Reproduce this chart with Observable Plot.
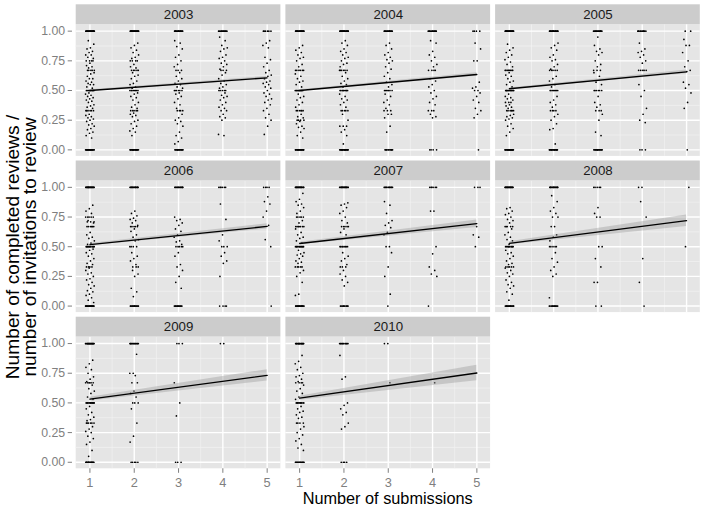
<!DOCTYPE html>
<html><head><meta charset="utf-8">
<script src="https://cdn.jsdelivr.net/npm/d3@7"></script>
<script src="https://cdn.jsdelivr.net/npm/@observablehq/plot@0.6"></script>
<style>
body{margin:0;background:#fff;font-family:"Liberation Sans",Arial,sans-serif;}
#wrap{position:relative;width:704px;height:509px;overflow:hidden;}
#wrap svg{position:absolute;left:0;top:0;}
#xt{position:absolute;left:75.7px;width:624px;top:490px;text-align:center;font-size:16.3px;line-height:1;color:#000;}
#yt{position:absolute;width:360px;left:-158.5px;top:229px;text-align:center;font-size:19.2px;line-height:0.9;color:#000;transform:rotate(-90deg);transform-origin:180px 18px;}
</style></head><body>
<div id="wrap"><div id="xt">Number of submissions</div><div id="yt">Number of completed reviews /<br>number of invitations to review</div></div>
<script>
// ---- data ----
const years = [2003, 2004, 2005, 2006, 2007, 2008, 2009, 2010];
const submissions = [1, 2, 3, 4, 5];
const yTicks = [0, 0.25, 0.5, 0.75, 1];
const yTickLabels = ["0.00", "0.25", "0.50", "0.75", "1.00"];
const yMinor = [0.125, 0.375, 0.625, 0.875];
const xMinor = [1.5, 2.5, 3.5, 4.5];
// ratio values per number of submissions (1..5); "v*n" = n reviewers with value v
const y2003 = [
 "1*22 0*20 0.5*10 0.33*6 0.67*5 0.75*4 0.92 0.89 0.86 0.85 0.83 0.82 0.8 0.8 0.78 0.77 0.73 0.71 0.7 0.69 0.65 0.64 0.62 0.6 0.6 0.58 0.57 0.56 0.55 0.55 0.53 0.52 0.48 0.47 0.46 0.45 0.44 0.43 0.42 0.41 0.4 0.38 0.37 0.36 0.35 0.3 0.29 0.28 0.27 0.26 0.25 0.24 0.22 0.21 0.2 0.18 0.17 0.15 0.14 0.12 0.1",
 "1*22 0*18 0.5*8 0.33*5 0.67*5 0.75*3 0.9 0.88 0.86 0.84 0.82 0.8 0.78 0.77 0.75 0.72 0.7 0.69 0.65 0.63 0.62 0.6 0.58 0.56 0.55 0.53 0.52 0.48 0.47 0.45 0.44 0.42 0.4 0.38 0.36 0.35 0.31 0.3 0.29 0.28 0.25 0.24 0.22 0.2 0.18 0.16 0.15 0.12",
 "1*16 0*14 0.5*6 0.33*4 0.67*3 0.92 0.9 0.87 0.85 0.8 0.78 0.75 0.72 0.7 0.65 0.62 0.6 0.58 0.56 0.55 0.53 0.52 0.48 0.47 0.45 0.43 0.4 0.38 0.35 0.3 0.27 0.25 0.24 0.22 0.2 0.15 0.12 0.1 0.07 0.05",
 "1*12 0.5*5 0.67*3 0.95 0.92 0.88 0.86 0.85 0.83 0.8 0.78 0.77 0.75 0.73 0.72 0.7 0.68 0.65 0.63 0.6 0.58 0.56 0.55 0.53 0.52 0.48 0.46 0.45 0.44 0.42 0.4 0.38 0.36 0.35 0.33 0.33 0.3 0.28 0.27 0.25 0.13 0.12",
 "1*6 0.92 0.9 0.88 0.86 0.78 0.76 0.73 0.7 0.67 0.65 0.63 0.62 0.6 0.58 0.57 0.56 0.55 0.53 0.52 0.5 0.48 0.47 0.45 0.43 0.42 0.4 0.38 0.35 0.33 0.3 0.27 0.25 0.2 0.13"
];
const y2004 = [
 "1*20 0*18 0.5*12 0.67*6 0.33*6 0.25*4 0.88 0.86 0.84 0.82 0.8 0.78 0.77 0.75 0.72 0.7 0.64 0.62 0.6 0.58 0.57 0.55 0.53 0.47 0.45 0.44 0.42 0.4 0.38 0.36 0.3 0.28 0.27 0.24 0.22 0.2 0.19 0.18 0.15 0.12 0.1",
 "1*20 0*18 0.5*10 0.67*6 0.33*5 0.2*3 0.92 0.9 0.88 0.85 0.83 0.82 0.8 0.78 0.77 0.75 0.73 0.72 0.7 0.65 0.62 0.6 0.58 0.56 0.55 0.53 0.47 0.45 0.43 0.42 0.4 0.38 0.36 0.3 0.25 0.17 0.15 0.12 0.05",
 "1*14 0*10 0.5*7 0.33*3 0.9 0.88 0.85 0.82 0.8 0.78 0.76 0.75 0.73 0.7 0.68 0.65 0.62 0.6 0.57 0.55 0.53 0.47 0.45 0.42 0.4 0.38 0.35 0.3 0.3 0.27 0.2 0.15",
 "1*12 0*4 0.67*4 0.92 0.9 0.83 0.8 0.78 0.75 0.72 0.7 0.6 0.58 0.55 0.53 0.5 0.48 0.45 0.43 0.4 0.38 0.33 0.33 0.33 0.3 0.28 0.27",
 "1*4 0 0.9 0.85 0.75 0.75 0.57 0.53 0.52 0.5 0.5 0.48 0.45 0.42 0.4 0.35 0.33 0.3 0.27"
];
const y2005 = [
 "1*22 0*20 0.5*14 0.67*8 0.33*6 0.4*3 0.89 0.86 0.84 0.82 0.8 0.78 0.76 0.74 0.72 0.7 0.65 0.63 0.62 0.6 0.58 0.57 0.55 0.53 0.47 0.45 0.44 0.43 0.42 0.38 0.37 0.36 0.35 0.3 0.29 0.28 0.27 0.26 0.25 0.22 0.2 0.18 0.15 0.12",
 "1*18 0*16 0.5*8 0.67*5 0.33*4 0.9 0.88 0.86 0.84 0.8 0.78 0.76 0.75 0.72 0.7 0.68 0.62 0.6 0.58 0.55 0.53 0.45 0.42 0.4 0.38 0.36 0.3 0.28 0.25 0.22 0.18 0.17 0.05",
 "1*14 0*14 0.5*6 0.67*3 0.33*3 0.95 0.88 0.85 0.83 0.82 0.8 0.75 0.72 0.7 0.65 0.62 0.57 0.55 0.45 0.4 0.38 0.36 0.3 0.25 0.15 0.12",
 "1*10 0*3 0.67*5 0.9 0.85 0.83 0.82 0.8 0.78 0.75 0.73 0.55 0.5 0.45 0.35 0.3 0.25 0.23",
 "1*2 0 0.93 0.88 0.88 0.82 0.75 0.7 0.67 0.66 0.57 0.55 0.52 0.48 0.4 0.35"
];
const y2006 = [
 "1*22 0*20 0.5*12 0.67*6 0.75*5 0.33*4 0.71*3 0.85 0.82 0.8 0.78 0.72 0.7 0.62 0.6 0.58 0.57 0.55 0.53 0.52 0.48 0.47 0.45 0.44 0.42 0.4 0.38 0.36 0.35 0.32 0.3 0.28 0.27 0.25 0.23 0.22 0.2 0.18 0.17 0.15 0.13 0.12 0.1 0.09 0.07 0.05 0.03",
 "1*16 0*14 0.5*4 0.67*5 0.33*3 0.8 0.78 0.76 0.74 0.73 0.72 0.7 0.68 0.65 0.63 0.6 0.58 0.56 0.55 0.45 0.42 0.4 0.38 0.35 0.3 0.27 0.25 0.15 0.12 0.08",
 "1*14 0*12 0.5*5 0.75 0.73 0.72 0.7 0.68 0.65 0.63 0.6 0.58 0.55 0.54 0.52 0.45 0.42 0.35 0.33 0.3 0.25 0.2 0.15",
 "1*6 0*4 0.5*3 0.86 0.73 0.6 0.55 0.45 0.42 0.38 0.36 0.25",
 "1*4 0 0.92 0.88 0.86 0.8 0.75 0.68 0.56 0.5"
];
const y2007 = [
 "1*20 0*18 0.5*12 0.67*7 0.75*5 0.33*5 0.95 0.9 0.88 0.86 0.85 0.83 0.8 0.78 0.72 0.7 0.65 0.62 0.6 0.58 0.57 0.55 0.53 0.47 0.45 0.44 0.43 0.42 0.4 0.38 0.37 0.36 0.3 0.28 0.25 0.2 0.1 0.09",
 "1*18 0*10 0.5*8 0.67*5 0.33*3 0.87 0.86 0.85 0.83 0.8 0.78 0.75 0.72 0.7 0.65 0.62 0.6 0.45 0.42 0.4 0.38 0.35 0.3 0.27 0.25 0.22 0.2 0.17",
 "1*12 0 0.88 0.85 0.78 0.72 0.7 0.68 0.66 0.62 0.6 0.5 0.5 0.45 0.33 0.25 0.1",
 "1*6 0 0.8 0.8 0.5 0.44 0.33 0.3 0.27 0.25",
 "1*3 0.67 0.6 0.58 0.5"
];
const y2008 = [
 "1*20 0*16 0.5*10 0.67*4 0.33*5 0.83 0.82 0.8 0.78 0.77 0.75 0.73 0.72 0.7 0.67 0.65 0.62 0.6 0.58 0.56 0.55 0.52 0.47 0.45 0.44 0.42 0.4 0.38 0.36 0.35 0.32 0.3 0.28 0.27 0.25 0.22 0.2 0.18 0.17 0.15 0.12 0.1 0.05",
 "1*16 0*12 0.5*5 0.93 0.88 0.83 0.8 0.78 0.75 0.75 0.67 0.67 0.6 0.58 0.55 0.45 0.4 0.37 0.33 0.3 0.27 0.25 0.07",
 "1*5 0*2 0.83 0.78 0.75 0.75 0.5 0.5 0.4 0.33 0.2 0.2",
 "1*2 0 0.88 0.75 0.4 0.2",
 "1 0.5"
];
const y2009 = [
 "1*20 0*16 0.5*12 0.67*6 0.33*6 0.86 0.83 0.8 0.78 0.75 0.72 0.7 0.68 0.65 0.62 0.6 0.58 0.55 0.53 0.47 0.45 0.42 0.4 0.38 0.36 0.35 0.3 0.28 0.26 0.25 0.22 0.2 0.17 0.15 0.1 0.05",
 "1*14 0*5 0.91 0.75 0.75 0.73 0.67 0.67 0.6 0.58 0.55 0.5 0.5 0.5 0.45 0.33 0.22 0.17",
 "1*3 0*3 0.67 0.5 0.39",
 "1*2",
 ""
];
const y2010 = [
 "1*18 0*14 0.5*10 0.67*4 0.33*4 0.9 0.85 0.83 0.8 0.78 0.75 0.73 0.72 0.7 0.68 0.65 0.62 0.6 0.58 0.55 0.53 0.47 0.45 0.43 0.42 0.4 0.38 0.37 0.3 0.28 0.25 0.23 0.2 0.18 0.15 0.12 0.1",
 "1*12 0*4 0.9 0.72 0.7 0.5 0.48 0.45 0.42 0.4 0.33 0.3 0.28",
 "1*2 0.67",
 "0.67",
 ""
];
// fitted linear trend (value at 1 and at 5 submissions) and 95% band half-widths
const fitAt1 = [0.500, 0.500, 0.515, 0.518, 0.527, 0.529, 0.532, 0.540];
const fitAt5 = [0.607, 0.635, 0.657, 0.671, 0.694, 0.719, 0.732, 0.752];
const ciAt1 = [0.006, 0.006, 0.007, 0.009, 0.010, 0.012, 0.015, 0.017];
const ciAt5 = [0.012, 0.014, 0.016, 0.022, 0.032, 0.048, 0.048, 0.066];

// ---- build tables ----
const yearValues = [y2003, y2004, y2005, y2006, y2007, y2008, y2009, y2010];
const facets = years.map((year, i) => ({year, i, col: i % 3, row: Math.floor(i / 3)}));
function parseGroup(str) {
  const out = [];
  for (const tok of str.trim().split(/\s+/)) {
    if (!tok) continue;
    const [v, n] = tok.split("*");
    for (let k = 0; k < (n ? +n : 1); k++) out.push(+v);
  }
  return out;
}
const points = [];
facets.forEach(f => {
  yearValues[f.i].forEach((str, si) => {
    const s = submissions[si];
    parseGroup(str).forEach((v, k) => {
      // horizontal jitter of +-0.1 (position adjustment only)
      const jit = ((((k + 1) * 0.6180339887 + f.i * 0.137 + s * 0.291) % 1) - 0.5) * 0.2;
      points.push({...f, sub: s, xj: s + jit, ratio: v});
    });
  });
});
const fit = facets.flatMap(f => [
  {...f, x: 1, y: fitAt1[f.i], lo: fitAt1[f.i] - ciAt1[f.i], hi: fitAt1[f.i] + ciAt1[f.i]},
  {...f, x: 5, y: fitAt5[f.i], lo: fitAt5[f.i] - ciAt5[f.i], hi: fitAt5[f.i] + ciAt5[f.i]}
]);
const hMajor = facets.flatMap(f => yTicks.map(v => ({...f, v})));
const hMinor = facets.flatMap(f => yMinor.map(v => ({...f, v})));
const vMajor = facets.flatMap(f => submissions.map(v => ({...f, v})));
const vMinor = facets.flatMap(f => xMinor.map(v => ({...f, v})));
const leftFacets = facets.filter(f => f.col === 0);
const yAxisData = leftFacets.flatMap(f => yTicks.map((v, j) => ({...f, v, label: yTickLabels[j]})));
const bottomFacets = facets.filter(f => f.year >= 2009);
const xAxisData = bottomFacets.flatMap(f => submissions.map(v => ({...f, v, label: String(v)})));

const X0 = 0.69, X1 = 5.31, Y0 = -0.055, Y1 = 1.055, YS = 1.222;
const pxX = 44.3, pxY = 118.7;
const fx = "col", fy = "row";

const chart = Plot.plot({
  width: 704, height: 509,
  marginLeft: 75.7, marginRight: 4.2, marginTop: 4.3, marginBottom: 40.7,
  style: {background: "transparent", fontFamily: "Liberation Sans, Arial, sans-serif"},
  fx: {domain: [0, 1, 2], axis: null, paddingInner: 5 / 209.7, paddingOuter: 0, round: false},
  fy: {domain: [0, 1, 2], axis: null, paddingInner: 4.6 / 156.2, paddingOuter: 0, round: false},
  x: {domain: [X0, X1], axis: null},
  y: {domain: [Y0, YS], axis: null},
  marks: [
    Plot.rect(facets, {x1: X0, x2: X1, y1: Y0, y2: Y1, fill: "#E5E5E5", fx, fy}),
    Plot.ruleY(hMinor, {y: "v", x1: X0, x2: X1, stroke: "#F2F2F2", strokeWidth: 0.7, fx, fy}),
    Plot.ruleX(vMinor, {x: "v", y1: Y0, y2: Y1, stroke: "#F2F2F2", strokeWidth: 0.7, fx, fy}),
    Plot.ruleY(hMajor, {y: "v", x1: X0, x2: X1, stroke: "#FFFFFF", strokeWidth: 1.4, fx, fy}),
    Plot.ruleX(vMajor, {x: "v", y1: Y0, y2: Y1, stroke: "#FFFFFF", strokeWidth: 1.4, fx, fy}),
    Plot.rect(facets, {x1: X0, x2: X1, y1: Y1, y2: YS, fill: "#CCCCCC", fx, fy}),
    Plot.text(facets, {x: 3, y: (Y1 + YS) / 2, text: d => String(d.year), fontSize: 13.3, fill: "#1A1A1A", fx, fy}),
    Plot.dot(points, {x: "xj", y: "ratio", r: 0.85, fill: "#000", stroke: null, fx, fy}),
    Plot.areaY(fit, {x: "x", y1: "lo", y2: "hi", z: "year", fill: "#999999", fillOpacity: 0.4, fx, fy}),
    Plot.line(fit, {x: "x", y: "y", z: "year", stroke: "#000", strokeWidth: 1.3, fx, fy}),
    // y axis (left column)
    Plot.ruleY(yAxisData, {y: "v", x1: X0 - 8 / pxX, x2: X0 - 3.7 / pxX, stroke: "#7F7F7F", strokeWidth: 1, fx, fy}),
    Plot.text(yAxisData, {x: X0, y: "v", text: "label", dx: -11, textAnchor: "end", fontSize: 12.3, fill: "#7F7F7F", fx, fy}),
    // x axis (bottom row)
    Plot.ruleX(xAxisData, {x: "v", y1: Y0, y2: Y0 - 4.5 / pxY, stroke: "#7F7F7F", strokeWidth: 1, fx, fy}),
    Plot.text(xAxisData, {x: "v", y: Y0, text: "label", dy: 14.5, fontSize: 12.8, fill: "#7F7F7F", fx, fy})
  ]
});
document.getElementById("wrap").prepend(chart);
</script>
</body></html>
